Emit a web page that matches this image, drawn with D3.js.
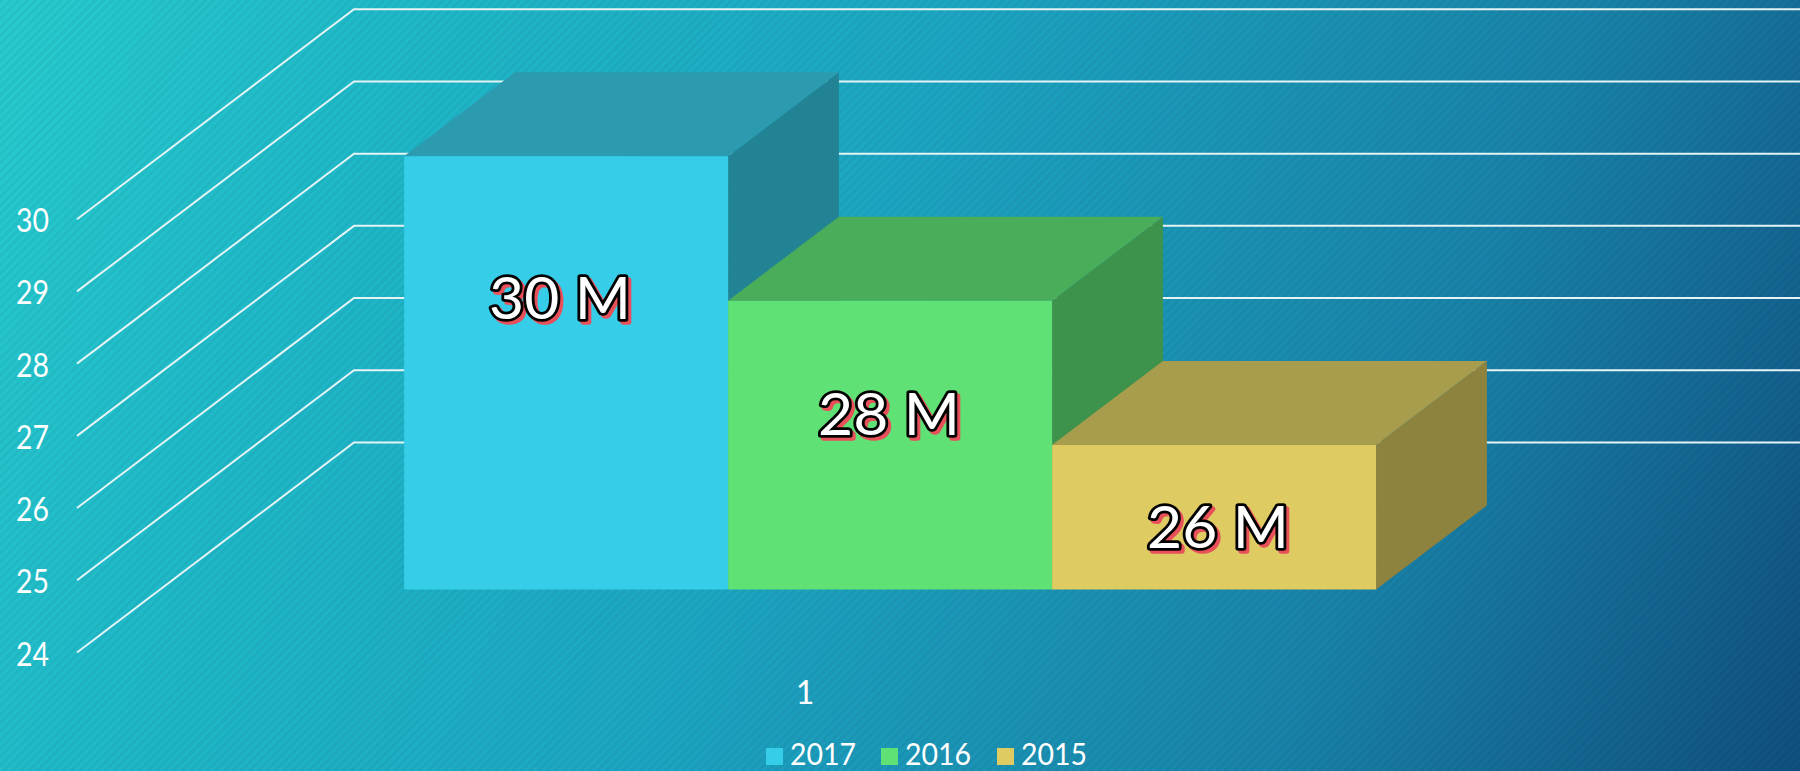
<!DOCTYPE html>
<html>
<head>
<meta charset="utf-8">
<script src="https://cdn.jsdelivr.net/npm/d3@7"></script>
<style>
  html, body { margin: 0; padding: 0; background: #1a8fb0; }
  svg { display: block; }
</style>
</head>
<body>
<div id="chart"></div>
<script>
const categories = ["1"];
const seriesNames = ["2017", "2016", "2015"];
const seriesValues = [30, 28, 26];
const dataLabels = ["30 M", "28 M", "26 M"];
const yTicks = [24, 25, 26, 27, 28, 29, 30];

const width = 1800, height = 771;

const frontColors = ["#36cde8", "#60e175", "#decc62"];
const topColors = ["#2c9bb0", "#4aad5a", "#a89d4c"];
const sideColors = ["#228395", "#3e934c", "#8d823e"];

// floor of the chart: how far the back wall is shifted from the front edge
const depthX = 277, depthY = 210;
const barNear = 0.3, barFar = 0.7;

const yScale = d3.scaleLinear().domain([24, 30]).range([652.5, 219.2]);
const xScale = d3.scaleBand()
    .domain(seriesNames)
    .range([79, 1535])
    .paddingInner(0)
    .paddingOuter(0.747);
const catScale = d3.scaleBand().domain(categories).range([77, 1533]);

function project(x, y, t) {
    return [x + depthX * t, y - depthY * t];
}

const svg = d3.select("#chart")
    .append("svg")
        .attr("width", width)
        .attr("height", height);

const defs = svg.append("defs");

const bgGradient = defs.append("linearGradient")
    .attr("id", "bgGradient")
    .attr("gradientUnits", "userSpaceOnUse")
    .attr("x1", 0).attr("y1", 0)
    .attr("x2", 1800).attr("y2", 771);
bgGradient.append("stop").attr("offset", "0%").attr("stop-color", "#28cbcf");
bgGradient.append("stop").attr("offset", "18%").attr("stop-color", "#1fbac9");
bgGradient.append("stop").attr("offset", "45%").attr("stop-color", "#1ca6c2");
bgGradient.append("stop").attr("offset", "75%").attr("stop-color", "#1983a9");
bgGradient.append("stop").attr("offset", "100%").attr("stop-color", "#104f80");

const stripes = defs.append("pattern")
    .attr("id", "stripes")
    .attr("patternUnits", "userSpaceOnUse")
    .attr("width", 6)
    .attr("height", 6)
    .attr("patternTransform", "rotate(45)");
stripes.append("rect")
    .attr("width", 3)
    .attr("height", 6)
    .attr("fill", "#000")
    .attr("fill-opacity", 0.045);

svg.append("rect").attr("width", width).attr("height", height).attr("fill", "url(#bgGradient)");
svg.append("rect").attr("width", width).attr("height", height).attr("fill", "url(#stripes)");

// gridlines run up the floor and then along the back wall
const gridLine = d3.line();
svg.append("g").selectAll("path")
    .data(yTicks)
    .enter()
    .append("path")
        .attr("d", function(tick) {
            const y = yScale(tick);
            return gridLine([
                project(77, y, 0),
                project(77, y, 1),
                project(1533, y, 1)
            ]);
        })
        .attr("fill", "none")
        .attr("stroke", "#e4f4f6")
        .attr("stroke-width", 2);

const axisFont = "Lato, sans-serif";

svg.append("g").selectAll("text")
    .data(yTicks)
    .enter()
    .append("text")
        .attr("x", 16)
        .attr("y", function(tick) { return yScale(tick) + 13; })
        .attr("textLength", 33)
        .attr("lengthAdjust", "spacingAndGlyphs")
        .attr("font-family", axisFont)
        .attr("font-size", 32)
        .attr("fill", "#fff")
        .text(function(tick) { return tick; });

function polygon(points) {
    return points.map(function(p) { return p.join(","); }).join(" ");
}

const floorY = yScale(24);
const bars = svg.append("g").selectAll("g")
    .data(seriesNames)
    .enter()
    .append("g");

bars.append("polygon")
    .attr("points", function(name, i) {
        const xr = xScale(name) + xScale.bandwidth();
        const yt = yScale(seriesValues[i]);
        return polygon([
            project(xr, yt, barNear), project(xr, yt, barFar),
            project(xr, floorY, barFar), project(xr, floorY, barNear)
        ]);
    })
    .attr("fill", function(name, i) { return sideColors[i]; });

bars.append("polygon")
    .attr("points", function(name, i) {
        const xl = xScale(name), xr = xl + xScale.bandwidth();
        const yt = yScale(seriesValues[i]);
        return polygon([
            project(xl, yt, barNear), project(xl, yt, barFar),
            project(xr, yt, barFar), project(xr, yt, barNear)
        ]);
    })
    .attr("fill", function(name, i) { return topColors[i]; });

bars.append("polygon")
    .attr("points", function(name, i) {
        const xl = xScale(name), xr = xl + xScale.bandwidth();
        const yt = yScale(seriesValues[i]);
        return polygon([
            project(xl, yt, barNear), project(xr, yt, barNear),
            project(xr, floorY, barNear), project(xl, floorY, barNear)
        ]);
    })
    .attr("fill", function(name, i) { return frontColors[i]; });

// labels were dragged by hand in the original, so they sit off centre
const labelNudge = [[-6, -76], [-1, -33], [4, 8]];
const labelFont = "Lato, sans-serif";

function drawLabelLayer(dx, dy, fill, stroke, strokeWidth) {
    svg.append("g").selectAll("text")
        .data(dataLabels)
        .enter()
        .append("text")
            .attr("x", function(d, i) {
                return project(xScale(seriesNames[i]) + xScale.bandwidth() / 2, 0, barNear)[0] + labelNudge[i][0] + dx;
            })
            .attr("y", function(d, i) {
                return (yScale(seriesValues[i]) + floorY) / 2 - depthY * barNear + labelNudge[i][1] + dy;
            })
            .attr("text-anchor", "middle")
            .attr("dominant-baseline", "central")
            .attr("font-family", labelFont)
            .attr("font-size", 58)
            .attr("textLength", 142)
            .attr("lengthAdjust", "spacingAndGlyphs")
            .attr("fill", fill)
            .attr("stroke", stroke)
            .attr("stroke-width", strokeWidth)
            .attr("stroke-linejoin", "round")
            .attr("paint-order", "stroke")
            .text(d => d);
}
drawLabelLayer(3, 3, "#e8505a", "#e8505a", 5.5);
drawLabelLayer(0, 0, "#fff", "#000", 5.5);

svg.append("text")
    .attr("x", catScale(categories[0]) + catScale.bandwidth() / 2)
    .attr("y", 704)
    .attr("text-anchor", "middle")
    .attr("font-family", axisFont)
    .attr("font-size", 32)
    .attr("fill", "#fff")
    .text(categories[0]);

// legend
const legendX = d3.scaleOrdinal().domain(seriesNames).range([766, 881, 997]);
const legend = svg.append("g").selectAll("g")
    .data(seriesNames)
    .enter()
    .append("g")
        .attr("transform", function(name) { return "translate(" + legendX(name) + ",748)"; });
legend.append("rect")
    .attr("width", 17)
    .attr("height", 17)
    .attr("fill", function(name, i) { return frontColors[i]; });
legend.append("text")
    .attr("x", 24)
    .attr("y", 17)
    .attr("textLength", 66)
    .attr("lengthAdjust", "spacingAndGlyphs")
    .attr("font-family", axisFont)
    .attr("font-size", 31)
    .attr("fill", "#fff")
    .text(name => name);
</script>
</body>
</html>
